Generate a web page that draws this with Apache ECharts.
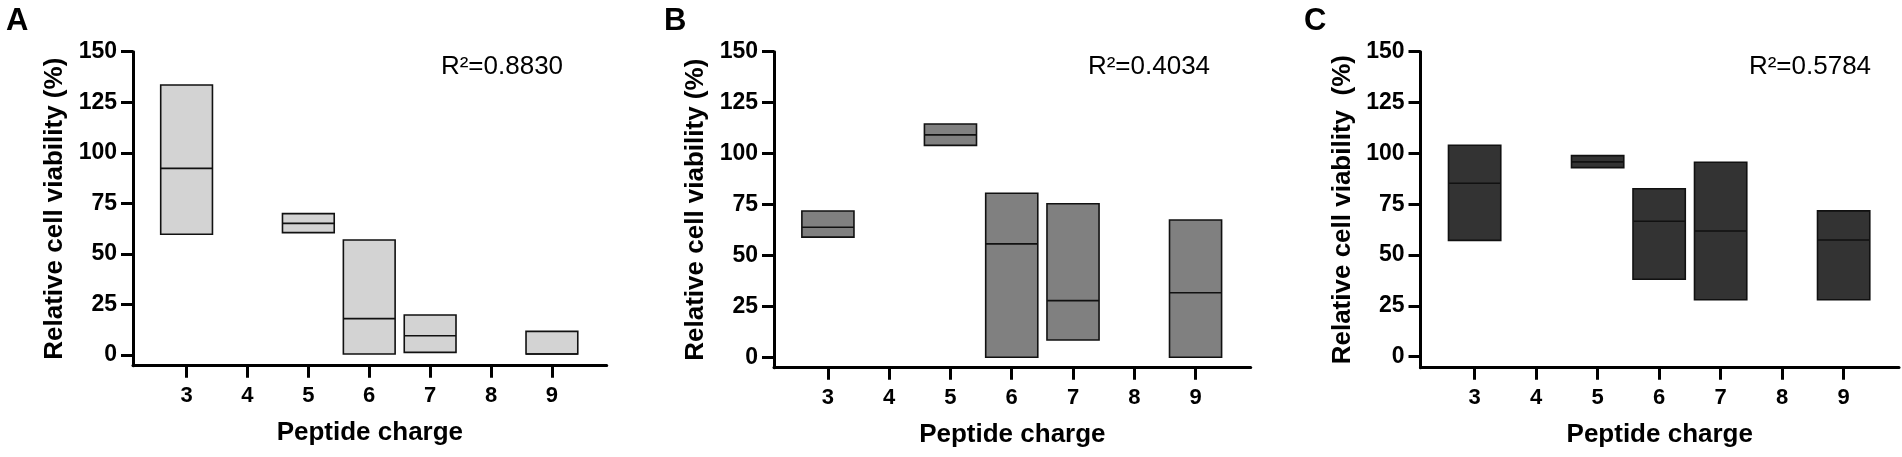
<!DOCTYPE html>
<html>
<head>
<meta charset="utf-8">
<script src="https://cdn.jsdelivr.net/npm/echarts@6/dist/echarts.min.js"></script>
<style>
  html, body { margin: 0; padding: 0; background: #fff; }
  #chart { width: 1902px; height: 457px; }
</style>
</head>
<body>
<div id="chart"></div>
<script>
// ---- data ----
const charges = [3, 5, 6, 7, 9];
const xTicks = [3, 4, 5, 6, 7, 8, 9];
const yTicks = [0, 25, 50, 75, 100, 125, 150];

const lowA = [59.7, 60.5, 0.5, 1.3, 0.5];
const medA = [92.3, 65.1, 18.0, 9.5, 0.5];
const highA = [133.5, 69.9, 56.9, 19.8, 11.7];

const lowB = [59.0, 104.0, 0.0, 8.5, 0.0];
const medB = [63.8, 109.2, 55.7, 27.8, 31.7];
const highB = [71.8, 114.5, 80.5, 75.4, 67.4];

const lowC = [57.2, 93.0, 38.1, 28.0, 28.0];
const medC = [85.3, 95.8, 66.6, 61.8, 57.4];
const highC = [104.0, 98.9, 82.6, 95.6, 71.7];

const panelLetters = ['A', 'B', 'C'];
const r2Labels = ['R\u00B2=0.8830', 'R\u00B2=0.4034', 'R\u00B2=0.5784'];
const yNames = ['Relative cell viability (%)', 'Relative cell viability (%)', 'Relative cell viability  (%)'];
const xName = 'Peptide charge';

// ---- layout ----
const FONT = 'Arial, "Liberation Sans", Helvetica, sans-serif';
const BOX_HALF = 0.425;
const panels = [
  { left: 133, top: 51.7, width: 473.7, height: 314, ymin: -5.3, fill: '#d3d3d3', low: lowA, med: medA, high: highA, letterX: 6, r2X: 502 },
  { left: 774, top: 51.7, width: 476.7, height: 316, ymin: -5.1, fill: '#808080', low: lowB, med: medB, high: highB, letterX: 664, r2X: 1149 },
  { left: 1420.5, top: 51.7, width: 478.5, height: 316, ymin: -5.4, fill: '#333333', low: lowC, med: medC, high: highC, letterX: 1304, r2X: 1810 }
];

function renderBox(params, api) {
  const x = api.value(0), lo = api.value(1), med = api.value(2), hi = api.value(3);
  const p1 = api.coord([x - BOX_HALF, hi]);
  const p2 = api.coord([x + BOX_HALF, lo]);
  const m1 = api.coord([x - BOX_HALF, med]);
  const m2 = api.coord([x + BOX_HALF, med]);
  return {
    type: 'group',
    children: [
      { type: 'rect', shape: { x: p1[0], y: p1[1], width: p2[0] - p1[0], height: p2[1] - p1[1] },
        style: { fill: api.visual('color'), stroke: '#111', lineWidth: 1.6 } },
      { type: 'line', shape: { x1: m1[0], y1: m1[1], x2: m2[0], y2: m2[1] },
        style: { stroke: '#111', lineWidth: 1.6 } }
    ]
  };
}

const grids = [], xAxes = [], yAxes = [], series = [], graphics = [];
panels.forEach((p, i) => {
  grids.push({ left: p.left, top: p.top, width: p.width, height: p.height, containLabel: false });
  xAxes.push({
    type: 'value', gridIndex: i, min: 2.12, max: 9.9,
    splitLine: { show: false },
    axisLine: { show: true, onZero: false, lineStyle: { color: '#000', width: 3 } },
    axisTick: { show: true, length: 12, lineStyle: { color: '#000', width: 3 }, customValues: xTicks },
    axisLabel: { show: true, customValues: xTicks, margin: 19, color: '#000', fontFamily: FONT, fontWeight: 'bold', fontSize: 22 },
    name: xName, nameLocation: 'middle', nameGap: 54,
    nameTextStyle: { color: '#000', fontFamily: FONT, fontWeight: 'bold', fontSize: 26 }
  });
  yAxes.push({
    type: 'value', gridIndex: i, min: p.ymin, max: 150,
    splitLine: { show: false },
    axisLine: { show: true, onZero: false, lineStyle: { color: '#000', width: 3 } },
    axisTick: { show: true, length: 12, lineStyle: { color: '#000', width: 3 }, customValues: yTicks },
    axisLabel: { show: true, customValues: yTicks, margin: 16, color: '#000', fontFamily: FONT, fontWeight: 'bold', fontSize: 23 },
    name: yNames[i], nameLocation: 'middle', nameGap: 65, nameRotate: 90,
    nameTextStyle: { color: '#000', fontFamily: FONT, fontWeight: 'bold', fontSize: 26 }
  });
  series.push({
    type: 'custom', xAxisIndex: i, yAxisIndex: i,
    itemStyle: { color: p.fill },
    renderItem: renderBox,
    encode: { x: 0, y: [1, 2, 3] },
    data: charges.map((c, k) => [c, p.low[k], p.med[k], p.high[k]])
  });
  graphics.push({
    type: 'text', left: p.letterX, top: 6,
    style: { text: panelLetters[i], fill: '#000', font: 'bold 31px ' + FONT }
  });
  graphics.push({
    type: 'text', x: p.r2X, y: 67,
    style: { text: r2Labels[i], fill: '#000', font: '26px ' + FONT, align: 'center', verticalAlign: 'middle' }
  });
});

const chart = echarts.init(document.getElementById('chart'), null, { renderer: 'canvas' });
chart.setOption({
  backgroundColor: '#fff',
  animation: false,
  grid: grids,
  xAxis: xAxes,
  yAxis: yAxes,
  series: series,
  graphic: graphics
});
</script>
</body>
</html>
